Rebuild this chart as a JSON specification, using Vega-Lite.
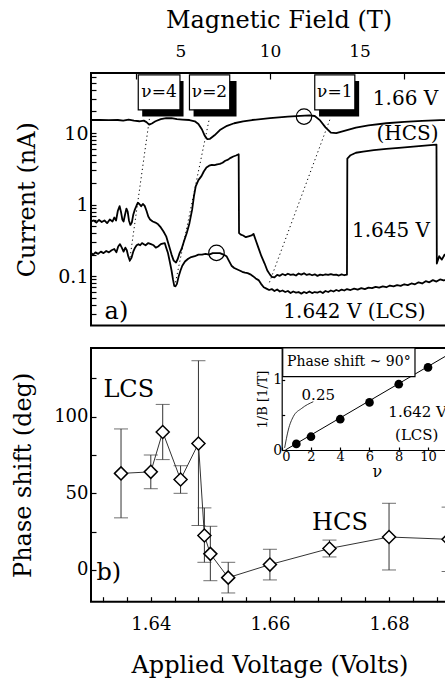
{
  "$schema": "https://vega.github.io/schema/vega-lite/v6.json",
  "padding": {"left": 10, "top": 7, "right": 0, "bottom": 0},
  "background": "white",
  "spacing": 18,
  "config": {
    "font": "DejaVu Serif",
    "view": {"stroke": "black", "strokeWidth": 2},
    "axis": {"domain": false, "grid": false, "labelFont": "DejaVu Serif", "titleFont": "DejaVu Serif", "labelColor": "black", "titleColor": "black", "tickColor": "black", "titleFontWeight": "normal", "tickWidth": 1.2, "labelOverlap": false},
    "text": {"font": "DejaVu Serif", "color": "black"}
  },
  "datasets": {
    "curves": [
      {"series":"HCS","B":0,"I":15.2},{"series":"HCS","B":0.5,"I":15.3},{"series":"HCS","B":1.0,"I":15.1},{"series":"HCS","B":1.5,"I":15.2},{"series":"HCS","B":1.8,"I":14.9},{"series":"HCS","B":2.1,"I":15.4},{"series":"HCS","B":2.4,"I":14.9},{"series":"HCS","B":2.7,"I":14.6},{"series":"HCS","B":2.95,"I":14.9},{"series":"HCS","B":3.1,"I":14.2},{"series":"HCS","B":3.25,"I":13.1},{"series":"HCS","B":3.4,"I":13.6},{"series":"HCS","B":3.6,"I":14.6},{"series":"HCS","B":3.9,"I":15.6},{"series":"HCS","B":4.2,"I":16.1},{"series":"HCS","B":4.5,"I":16.2},{"series":"HCS","B":4.8,"I":15.6},{"series":"HCS","B":5.1,"I":15.4},{"series":"HCS","B":5.5,"I":15.2},{"series":"HCS","B":5.8,"I":14.6},{"series":"HCS","B":6.0,"I":13.4},{"series":"HCS","B":6.2,"I":11.2},{"series":"HCS","B":6.35,"I":9.2},{"series":"HCS","B":6.5,"I":8.2},{"series":"HCS","B":6.65,"I":8.3},{"series":"HCS","B":6.9,"I":9.3},{"series":"HCS","B":7.2,"I":11.0},{"series":"HCS","B":7.6,"I":12.6},{"series":"HCS","B":8.0,"I":13.7},{"series":"HCS","B":8.5,"I":14.5},{"series":"HCS","B":9.0,"I":15.2},{"series":"HCS","B":10,"I":16.2},{"series":"HCS","B":11,"I":16.9},{"series":"HCS","B":11.7,"I":17.4},{"series":"HCS","B":12.2,"I":17.7},{"series":"HCS","B":12.5,"I":17.3},{"series":"HCS","B":12.8,"I":15.0},{"series":"HCS","B":13.1,"I":12.0},{"series":"HCS","B":13.4,"I":10.1},{"series":"HCS","B":13.7,"I":10.0},{"series":"HCS","B":14.2,"I":10.8},{"series":"HCS","B":14.8,"I":11.9},{"series":"HCS","B":15.5,"I":12.8},{"series":"HCS","B":16.5,"I":13.7},{"series":"HCS","B":17.5,"I":14.3},{"series":"HCS","B":18.5,"I":14.8},{"series":"HCS","B":19.5,"I":15.1},{"series":"HCS","B":20,"I":15.2},
      {"series":"V1645","B":0.0,"I":0.58},{"series":"V1645","B":0.15,"I":0.6},{"series":"V1645","B":0.3,"I":0.56},{"series":"V1645","B":0.45,"I":0.61},{"series":"V1645","B":0.6,"I":0.57},{"series":"V1645","B":0.75,"I":0.6},{"series":"V1645","B":0.9,"I":0.55},{"series":"V1645","B":1.05,"I":0.62},{"series":"V1645","B":1.2,"I":0.58},{"series":"V1645","B":1.3,"I":0.66},{"series":"V1645","B":1.4,"I":0.6},{"series":"V1645","B":1.5,"I":0.82},{"series":"V1645","B":1.6,"I":0.95},{"series":"V1645","B":1.68,"I":0.78},{"series":"V1645","B":1.75,"I":0.62},{"series":"V1645","B":1.82,"I":0.58},{"series":"V1645","B":1.9,"I":0.72},{"series":"V1645","B":1.98,"I":0.88},{"series":"V1645","B":2.05,"I":0.8},{"series":"V1645","B":2.12,"I":0.6},{"series":"V1645","B":2.2,"I":0.52},{"series":"V1645","B":2.28,"I":0.56},{"series":"V1645","B":2.36,"I":0.72},{"series":"V1645","B":2.45,"I":0.85},{"series":"V1645","B":2.55,"I":0.98},{"series":"V1645","B":2.62,"I":1.06},{"series":"V1645","B":2.7,"I":1.02},{"series":"V1645","B":2.8,"I":0.95},{"series":"V1645","B":2.9,"I":1.02},{"series":"V1645","B":3.0,"I":0.96},{"series":"V1645","B":3.1,"I":0.82},{"series":"V1645","B":3.2,"I":0.68},{"series":"V1645","B":3.3,"I":0.62},{"series":"V1645","B":3.45,"I":0.58},{"series":"V1645","B":3.6,"I":0.56},{"series":"V1645","B":3.75,"I":0.53},{"series":"V1645","B":3.9,"I":0.48},{"series":"V1645","B":4.05,"I":0.42},{"series":"V1645","B":4.2,"I":0.36},{"series":"V1645","B":4.35,"I":0.27},{"series":"V1645","B":4.5,"I":0.2},{"series":"V1645","B":4.62,"I":0.165},{"series":"V1645","B":4.75,"I":0.155},{"series":"V1645","B":4.85,"I":0.175},{"series":"V1645","B":4.95,"I":0.21},{"series":"V1645","B":5.06,"I":0.24},{"series":"V1645","B":5.2,"I":0.31},{"series":"V1645","B":5.35,"I":0.4},{"series":"V1645","B":5.5,"I":0.55},{"series":"V1645","B":5.65,"I":0.85},{"series":"V1645","B":5.75,"I":1.3},{"series":"V1645","B":5.85,"I":1.8},{"series":"V1645","B":6.0,"I":2.2},{"series":"V1645","B":6.17,"I":2.5},{"series":"V1645","B":6.3,"I":2.9},{"series":"V1645","B":6.45,"I":3.3},{"series":"V1645","B":6.6,"I":3.5},{"series":"V1645","B":6.75,"I":3.6},{"series":"V1645","B":6.9,"I":3.55},{"series":"V1645","B":7.05,"I":3.65},{"series":"V1645","B":7.2,"I":3.7},{"series":"V1645","B":7.35,"I":3.85},{"series":"V1645","B":7.5,"I":4.1},{"series":"V1645","B":7.66,"I":4.25},{"series":"V1645","B":7.8,"I":4.5},{"series":"V1645","B":7.95,"I":4.7},{"series":"V1645","B":8.1,"I":4.85},{"series":"V1645","B":8.25,"I":5.05},{"series":"V1645","B":8.27,"I":0.4},{"series":"V1645","B":8.37,"I":0.38},{"series":"V1645","B":8.5,"I":0.37},{"series":"V1645","B":8.65,"I":0.35},{"series":"V1645","B":8.8,"I":0.36},{"series":"V1645","B":8.97,"I":0.37},{"series":"V1645","B":9.08,"I":0.39},{"series":"V1645","B":9.2,"I":0.32},{"series":"V1645","B":9.35,"I":0.25},{"series":"V1645","B":9.52,"I":0.19},{"series":"V1645","B":9.7,"I":0.15},{"series":"V1645","B":9.85,"I":0.12},{"series":"V1645","B":10.0,"I":0.105},{"series":"V1645","B":10.1,"I":0.098},{"series":"V1645","B":10.25,"I":0.096},{"series":"V1645","B":10.4,"I":0.104},{"series":"V1645","B":10.55,"I":0.101},{"series":"V1645","B":10.7,"I":0.107},{"series":"V1645","B":10.85,"I":0.103},{"series":"V1645","B":11.0,"I":0.108},{"series":"V1645","B":11.15,"I":0.104},{"series":"V1645","B":11.3,"I":0.106},{"series":"V1645","B":11.45,"I":0.102},{"series":"V1645","B":11.6,"I":0.109},{"series":"V1645","B":11.75,"I":0.105},{"series":"V1645","B":11.9,"I":0.11},{"series":"V1645","B":12.05,"I":0.104},{"series":"V1645","B":12.2,"I":0.107},{"series":"V1645","B":12.35,"I":0.103},{"series":"V1645","B":12.5,"I":0.106},{"series":"V1645","B":12.65,"I":0.101},{"series":"V1645","B":12.8,"I":0.105},{"series":"V1645","B":12.95,"I":0.103},{"series":"V1645","B":13.1,"I":0.106},{"series":"V1645","B":13.25,"I":0.104},{"series":"V1645","B":13.4,"I":0.107},{"series":"V1645","B":13.55,"I":0.104},{"series":"V1645","B":13.7,"I":0.105},{"series":"V1645","B":13.85,"I":0.102},{"series":"V1645","B":14.0,"I":0.106},{"series":"V1645","B":14.15,"I":0.103},{"series":"V1645","B":14.3,"I":0.105},{"series":"V1645","B":14.32,"I":4.4},{"series":"V1645","B":14.5,"I":4.9},{"series":"V1645","B":14.8,"I":5.3},{"series":"V1645","B":15.2,"I":5.5},{"series":"V1645","B":15.8,"I":5.75},{"series":"V1645","B":16.5,"I":6.0},{"series":"V1645","B":17.2,"I":6.2},{"series":"V1645","B":18.0,"I":6.45},{"series":"V1645","B":18.8,"I":6.7},{"series":"V1645","B":19.3,"I":6.9},{"series":"V1645","B":19.32,"I":0.15},{"series":"V1645","B":19.45,"I":0.19},{"series":"V1645","B":19.6,"I":0.17},{"series":"V1645","B":19.75,"I":0.2},{"series":"V1645","B":19.9,"I":0.18},{"series":"V1645","B":20,"I":0.19},
      {"series":"LCS","B":0.0,"I":0.21},{"series":"LCS","B":0.12,"I":0.2},{"series":"LCS","B":0.25,"I":0.215},{"series":"LCS","B":0.4,"I":0.205},{"series":"LCS","B":0.55,"I":0.22},{"series":"LCS","B":0.7,"I":0.21},{"series":"LCS","B":0.85,"I":0.225},{"series":"LCS","B":1.0,"I":0.215},{"series":"LCS","B":1.15,"I":0.23},{"series":"LCS","B":1.3,"I":0.24},{"series":"LCS","B":1.42,"I":0.215},{"series":"LCS","B":1.52,"I":0.26},{"series":"LCS","B":1.62,"I":0.28},{"series":"LCS","B":1.72,"I":0.25},{"series":"LCS","B":1.82,"I":0.22},{"series":"LCS","B":1.92,"I":0.25},{"series":"LCS","B":2.0,"I":0.23},{"series":"LCS","B":2.08,"I":0.19},{"series":"LCS","B":2.17,"I":0.165},{"series":"LCS","B":2.26,"I":0.18},{"series":"LCS","B":2.36,"I":0.22},{"series":"LCS","B":2.46,"I":0.25},{"series":"LCS","B":2.55,"I":0.27},{"series":"LCS","B":2.65,"I":0.28},{"series":"LCS","B":2.75,"I":0.27},{"series":"LCS","B":2.85,"I":0.29},{"series":"LCS","B":2.95,"I":0.28},{"series":"LCS","B":3.05,"I":0.27},{"series":"LCS","B":3.2,"I":0.29},{"series":"LCS","B":3.35,"I":0.28},{"series":"LCS","B":3.5,"I":0.27},{"series":"LCS","B":3.62,"I":0.25},{"series":"LCS","B":3.75,"I":0.26},{"series":"LCS","B":3.9,"I":0.28},{"series":"LCS","B":4.0,"I":0.285},{"series":"LCS","B":4.12,"I":0.29},{"series":"LCS","B":4.2,"I":0.25},{"series":"LCS","B":4.3,"I":0.21},{"series":"LCS","B":4.4,"I":0.16},{"series":"LCS","B":4.5,"I":0.12},{"series":"LCS","B":4.58,"I":0.09},{"series":"LCS","B":4.65,"I":0.073},{"series":"LCS","B":4.72,"I":0.072},{"series":"LCS","B":4.8,"I":0.078},{"series":"LCS","B":4.9,"I":0.1},{"series":"LCS","B":5.0,"I":0.12},{"series":"LCS","B":5.1,"I":0.14},{"series":"LCS","B":5.25,"I":0.16},{"series":"LCS","B":5.43,"I":0.175},{"series":"LCS","B":5.6,"I":0.185},{"series":"LCS","B":5.8,"I":0.19},{"series":"LCS","B":6.0,"I":0.2},{"series":"LCS","B":6.2,"I":0.2},{"series":"LCS","B":6.4,"I":0.205},{"series":"LCS","B":6.6,"I":0.2},{"series":"LCS","B":6.8,"I":0.21},{"series":"LCS","B":7.0,"I":0.21},{"series":"LCS","B":7.2,"I":0.21},{"series":"LCS","B":7.4,"I":0.2},{"series":"LCS","B":7.57,"I":0.19},{"series":"LCS","B":7.7,"I":0.165},{"series":"LCS","B":7.85,"I":0.14},{"series":"LCS","B":8.0,"I":0.13},{"series":"LCS","B":8.15,"I":0.125},{"series":"LCS","B":8.3,"I":0.12},{"series":"LCS","B":8.45,"I":0.115},{"series":"LCS","B":8.6,"I":0.112},{"series":"LCS","B":8.75,"I":0.11},{"series":"LCS","B":8.9,"I":0.106},{"series":"LCS","B":9.05,"I":0.1},{"series":"LCS","B":9.2,"I":0.093},{"series":"LCS","B":9.36,"I":0.088},{"series":"LCS","B":9.5,"I":0.078},{"series":"LCS","B":9.65,"I":0.07},{"series":"LCS","B":9.8,"I":0.067},{"series":"LCS","B":9.95,"I":0.064},{"series":"LCS","B":10.1,"I":0.066},{"series":"LCS","B":10.25,"I":0.062},{"series":"LCS","B":10.4,"I":0.065},{"series":"LCS","B":10.55,"I":0.061},{"series":"LCS","B":10.7,"I":0.063},{"series":"LCS","B":10.85,"I":0.06},{"series":"LCS","B":11.0,"I":0.062},{"series":"LCS","B":11.15,"I":0.058},{"series":"LCS","B":11.3,"I":0.061},{"series":"LCS","B":11.45,"I":0.059},{"series":"LCS","B":11.6,"I":0.06},{"series":"LCS","B":11.75,"I":0.057},{"series":"LCS","B":11.9,"I":0.06},{"series":"LCS","B":12.05,"I":0.058},{"series":"LCS","B":12.2,"I":0.061},{"series":"LCS","B":12.35,"I":0.058},{"series":"LCS","B":12.5,"I":0.06},{"series":"LCS","B":12.65,"I":0.059},{"series":"LCS","B":12.8,"I":0.061},{"series":"LCS","B":12.95,"I":0.058},{"series":"LCS","B":13.1,"I":0.062},{"series":"LCS","B":13.25,"I":0.06},{"series":"LCS","B":13.4,"I":0.063},{"series":"LCS","B":13.55,"I":0.061},{"series":"LCS","B":13.7,"I":0.064},{"series":"LCS","B":13.85,"I":0.062},{"series":"LCS","B":14.0,"I":0.065},{"series":"LCS","B":14.15,"I":0.063},{"series":"LCS","B":14.3,"I":0.066},{"series":"LCS","B":14.5,"I":0.064},{"series":"LCS","B":14.7,"I":0.067},{"series":"LCS","B":14.9,"I":0.065},{"series":"LCS","B":15.1,"I":0.068},{"series":"LCS","B":15.3,"I":0.066},{"series":"LCS","B":15.5,"I":0.069},{"series":"LCS","B":15.7,"I":0.068},{"series":"LCS","B":15.9,"I":0.071},{"series":"LCS","B":16.1,"I":0.069},{"series":"LCS","B":16.3,"I":0.072},{"series":"LCS","B":16.5,"I":0.07},{"series":"LCS","B":16.7,"I":0.074},{"series":"LCS","B":16.9,"I":0.072},{"series":"LCS","B":17.1,"I":0.075},{"series":"LCS","B":17.3,"I":0.073},{"series":"LCS","B":17.5,"I":0.077},{"series":"LCS","B":17.7,"I":0.075},{"series":"LCS","B":17.9,"I":0.079},{"series":"LCS","B":18.1,"I":0.077},{"series":"LCS","B":18.3,"I":0.082},{"series":"LCS","B":18.5,"I":0.079},{"series":"LCS","B":18.7,"I":0.085},{"series":"LCS","B":18.9,"I":0.082},{"series":"LCS","B":19.1,"I":0.088},{"series":"LCS","B":19.3,"I":0.084},{"series":"LCS","B":19.5,"I":0.09},{"series":"LCS","B":19.7,"I":0.087},{"series":"LCS","B":19.9,"I":0.09},{"series":"LCS","B":20,"I":0.088}
    ],
    "nulines": [
      {"nu":"4","B":3.27,"I":16.3},{"nu":"4","B":2.15,"I":0.16},
      {"nu":"2","B":6.62,"I":16.3},{"nu":"2","B":4.72,"I":0.082},
      {"nu":"1","B":13.38,"I":16.3},{"nu":"1","B":9.97,"I":0.082}
    ],
    "boxes": [
      {"label":"ν=4","B1":2.64,"B2":4.97,"I1":21.1,"I2":65,"sB1":2.86,"sB2":5.17,"sI1":17.0,"sI2":53.5,"Bt":3.8,"It":37},
      {"label":"ν=2","B1":5.5,"B2":7.75,"I1":21.1,"I2":65,"sB1":5.73,"sB2":8.13,"sI1":17.0,"sI2":53.5,"Bt":6.62,"It":37},
      {"label":"ν=1","B1":12.5,"B2":14.74,"I1":21.1,"I2":65,"sB1":12.74,"sB2":14.98,"sI1":17.0,"sI2":53.5,"Bt":13.62,"It":37}
    ],
    "rings": [{"B":11.9,"I":17.0},{"B":7.01,"I":0.212}],
    "toptext": [
      {"label":"1.66 V","B":17.57,"I":30.1},{"label":"(HCS)","B":17.68,"I":9.78},{"label":"1.645 V","B":16.76,"I":0.424},{"label":"1.642 V (LCS)","B":14.72,"I":0.0312}
    ],
    "toplabel": [{"label":"a)","B":1.42,"I":0.0312}],
    "phase": [
      {"V":1.635,"ph":63,"lo":34,"hi":92},
      {"V":1.640,"ph":64,"lo":53,"hi":75},
      {"V":1.642,"ph":90,"lo":72,"hi":108},
      {"V":1.645,"ph":59,"lo":50,"hi":68},
      {"V":1.648,"ph":82.5,"lo":29,"hi":136.5},
      {"V":1.649,"ph":22.5,"lo":5,"hi":40.5},
      {"V":1.650,"ph":10.5,"lo":-7,"hi":28.5},
      {"V":1.653,"ph":-5,"lo":-15,"hi":5},
      {"V":1.660,"ph":3.5,"lo":-6.5,"hi":13.5},
      {"V":1.670,"ph":14,"lo":8.5,"hi":19.5},
      {"V":1.680,"ph":21.5,"lo":0,"hi":43.5},
      {"V":1.690,"ph":20,"lo":-1,"hi":41}
    ],
    "bottext": [{"label":"LCS","V":1.6363,"ph":117.4},{"label":"HCS","V":1.67176,"ph":30.7},{"label":"b)","V":1.63296,"ph":-2}],
    "insetpts": [{"nu":1,"invB":0.087},{"nu":2,"invB":0.19},{"nu":4,"invB":0.44},{"nu":6,"invB":0.68},{"nu":8,"invB":0.94},{"nu":10,"invB":1.18},{"nu":12,"invB":1.42}],
    "insetfit": [{"nu":0.25,"invB":0},{"nu":12.1,"invB":1.45}],
    "pointer": [{"nu":0.2,"invB":0.03},{"nu":0.45,"invB":0.286},{"nu":0.79,"invB":0.476},{"nu":1.37,"invB":0.595},{"nu":2.16,"invB":0.69}],
    "insetbox": [{"label":"Phase shift ~  90°","n1":0.07,"n2":9.11,"b1":1.047,"b2":1.457,"nt":4.59,"bt":1.257}],
    "insettext": [{"label":"0.25","nu":2.5,"invB":0.786},{"label":"1.642 V","nu":9.29,"invB":0.547},{"label":"(LCS)","nu":9.23,"invB":0.214}]
  },
  "vconcat": [
    {
      "width": 358,
      "height": 252.4,
      "layer": [
        {
          "layer": [
            {
              "data": {"name": "curves"},
              "mark": {"type": "line", "color": "black", "strokeWidth": 1.8, "strokeJoin": "round"},
              "encoding": {
                "x": {"field": "B", "type": "quantitative", "scale": {"domain": [0, 20], "nice": false, "zero": false},
                  "axis": {"orient": "top", "title": "Magnetic Field (T)", "titleX": 187.5, "values": [5, 10, 15], "tickSize": -6, "tickOpacity": 0, "labelFontSize": 17, "titleFontSize": 24, "labelPadding": 19, "titlePadding": 10, "labelOverlap": false}},
                "y": {"field": "I", "type": "quantitative", "scale": {"type": "log", "domain": [0.0205, 69], "nice": false},
                  "axis": {"title": "Current (nA)", "titleFontSize": 24, "labelFontSize": 19, "tickSize": -5, "labelPadding": 8, "titlePadding": 18, "labelOverlap": false,
                    "values": [0.03,0.04,0.05,0.06,0.07,0.08,0.09,0.1,0.2,0.3,0.4,0.5,0.6,0.7,0.8,0.9,1,2,3,4,5,6,7,8,9,10,20,30,40,50,60],
                    "labelExpr": "datum.value == 0.1 ? '0.1' : datum.value == 1 ? '1' : datum.value == 10 ? '10' : ''"}},
                "detail": {"field": "series"}
              }
            },
            {
              "data": {"name": "nulines"},
              "mark": {"type": "line", "color": "black", "strokeWidth": 1, "strokeDash": [1.2, 3]},
              "encoding": {"x": {"field": "B", "type": "quantitative"}, "y": {"field": "I", "type": "quantitative"}, "detail": {"field": "nu"}}
            },
            {
              "data": {"name": "boxes"},
              "mark": {"type": "rect", "color": "black"},
              "encoding": {"x": {"field": "sB1", "type": "quantitative"}, "x2": {"field": "sB2"}, "y": {"field": "sI1", "type": "quantitative"}, "y2": {"field": "sI2"}}
            },
            {
              "data": {"name": "boxes"},
              "mark": {"type": "rect", "fill": "white", "stroke": "black", "strokeWidth": 1.2},
              "encoding": {"x": {"field": "B1", "type": "quantitative"}, "x2": {"field": "B2"}, "y": {"field": "I1", "type": "quantitative"}, "y2": {"field": "I2"}}
            },
            {
              "data": {"name": "boxes"},
              "mark": {"type": "text", "fontSize": 17, "baseline": "middle", "align": "center"},
              "encoding": {"x": {"field": "Bt", "type": "quantitative"}, "y": {"field": "It", "type": "quantitative"}, "text": {"field": "label"}}
            },
            {
              "data": {"name": "rings"},
              "mark": {"type": "point", "shape": "circle", "filled": false, "color": "black", "size": 240, "strokeWidth": 1.2, "opacity": 1},
              "encoding": {"x": {"field": "B", "type": "quantitative"}, "y": {"field": "I", "type": "quantitative"}}
            },
            {
              "data": {"name": "toptext"},
              "mark": {"type": "text", "fontSize": 20, "baseline": "middle", "align": "center"},
              "encoding": {"x": {"field": "B", "type": "quantitative"}, "y": {"field": "I", "type": "quantitative"}, "text": {"field": "label"}}
            },
            {
              "data": {"name": "toplabel"},
              "mark": {"type": "text", "fontSize": 24, "baseline": "middle", "align": "center"},
              "encoding": {"x": {"field": "B", "type": "quantitative"}, "y": {"field": "I", "type": "quantitative"}, "text": {"field": "label"}}
            }
          ]
        },
        {
          "data": {"name": "rings"},
          "mark": {"type": "point", "opacity": 0},
          "encoding": {
            "x": {"field": "B", "type": "quantitative", "scale": {"domain": [0, 20], "nice": false, "zero": false},
              "axis": {"orient": "top", "values": [2.5, 10, 17.5], "labels": false, "title": null, "tickSize": -6}},
            "y": {"field": "I", "type": "quantitative", "scale": {"type": "log", "domain": [0.0205, 69], "nice": false}, "axis": null}
          }
        }
      ],
      "resolve": {"scale": {"x": "independent", "y": "independent"}, "axis": {"x": "independent", "y": "independent"}}
    },
    {
      "width": 357,
      "height": 253.7,
      "layer": [
        {
          "layer": [
            {
              "data": {"name": "phase"},
              "mark": {"type": "line", "color": "#333", "strokeWidth": 1},
              "encoding": {
                "x": {"field": "V", "type": "quantitative", "scale": {"domain": [1.62996, 1.6899], "nice": false, "zero": false},
                  "axis": {"title": "Applied Voltage (Volts)", "titleFontSize": 24, "labelFontSize": 18, "tickSize": -5, "labelPadding": 19, "titlePadding": 20, "labelOverlap": false,
                    "values": [1.64, 1.66, 1.68], "format": ".2f"}},
                "y": {"field": "ph", "type": "quantitative", "scale": {"domain": [-20.7, 144.8], "nice": false, "zero": false},
                  "axis": {"title": "Phase shift (deg)", "titleFontSize": 24, "labelFontSize": 18, "tickSize": -5, "labelPadding": 8, "titlePadding": 18, "labelOverlap": false,
                    "values": [0, 25, 50, 75, 100, 125], "labelExpr": "datum.value % 50 == 0 ? datum.value : ''"}}
              }
            },
            {
              "data": {"name": "phase"},
              "mark": {"type": "rule", "color": "#333", "strokeWidth": 1},
              "encoding": {"x": {"field": "V", "type": "quantitative"}, "y": {"field": "lo", "type": "quantitative"}, "y2": {"field": "hi"}}
            },
            {
              "data": {"name": "phase"},
              "mark": {"type": "tick", "orient": "horizontal", "color": "#333", "size": 14, "thickness": 1},
              "encoding": {"x": {"field": "V", "type": "quantitative"}, "y": {"field": "lo", "type": "quantitative"}}
            },
            {
              "data": {"name": "phase"},
              "mark": {"type": "tick", "orient": "horizontal", "color": "#333", "size": 14, "thickness": 1},
              "encoding": {"x": {"field": "V", "type": "quantitative"}, "y": {"field": "hi", "type": "quantitative"}}
            },
            {
              "data": {"name": "phase"},
              "mark": {"type": "point", "shape": "diamond", "filled": true, "fill": "white", "stroke": "black", "strokeWidth": 1.5, "size": 170, "opacity": 1},
              "encoding": {"x": {"field": "V", "type": "quantitative"}, "y": {"field": "ph", "type": "quantitative"}}
            },
            {
              "data": {"name": "bottext"},
              "mark": {"type": "text", "fontSize": 24, "baseline": "middle", "align": "center"},
              "encoding": {"x": {"field": "V", "type": "quantitative"}, "y": {"field": "ph", "type": "quantitative"}, "text": {"field": "label"}}
            }
          ]
        },
        {
          "layer": [
            {
              "data": {"name": "insetfit"},
              "mark": {"type": "line", "color": "black", "strokeWidth": 1},
              "encoding": {
                "x": {"field": "nu", "type": "quantitative", "scale": {"domain": [0, 13], "range": [190.7, 380.9], "nice": false, "zero": false},
                  "axis": {"orient": "bottom", "offset": -151.7, "domain": true, "domainColor": "black", "domainWidth": 1.2, "title": "ν", "titleFontSize": 16, "titlePadding": 0, "labelFontSize": 13, "labelPadding": 3, "tickSize": -3, "labelOverlap": false,
                    "values": [0,1,2,3,4,5,6,7,8,9,10,11,12,13], "labelExpr": "datum.value % 2 == 0 ? datum.value : ''"}},
                "y": {"field": "invB", "type": "quantitative", "scale": {"domain": [0, 1.457], "range": [102, 0], "nice": false, "zero": false},
                  "axis": {"orient": "left", "offset": -190.7, "domain": true, "domainColor": "black", "domainWidth": 1.2, "title": "1/B [1/T]", "titleFontSize": 13, "titlePadding": 3, "labelFontSize": 14, "labelPadding": 3, "tickSize": -3, "labelOverlap": false,
                    "values": [0, 0.5, 1], "labelExpr": "datum.value == 0 ? '0' : datum.value == 1 ? '1' : ''"}}
              }
            },
            {
              "data": {"name": "pointer"},
              "mark": {"type": "line", "color": "black", "strokeWidth": 0.8, "interpolate": "monotone"},
              "encoding": {"x": {"field": "nu", "type": "quantitative"}, "y": {"field": "invB", "type": "quantitative"}}
            },
            {
              "data": {"name": "insetpts"},
              "mark": {"type": "point", "shape": "circle", "filled": true, "color": "black", "size": 75, "opacity": 1},
              "encoding": {"x": {"field": "nu", "type": "quantitative"}, "y": {"field": "invB", "type": "quantitative"}}
            },
            {
              "data": {"name": "insetbox"},
              "mark": {"type": "rect", "fill": "white", "stroke": "black", "strokeWidth": 1.2},
              "encoding": {"x": {"field": "n1", "type": "quantitative"}, "x2": {"field": "n2"}, "y": {"field": "b1", "type": "quantitative"}, "y2": {"field": "b2"}}
            },
            {
              "data": {"name": "insetbox"},
              "mark": {"type": "text", "fontSize": 14, "baseline": "middle", "align": "center"},
              "encoding": {"x": {"field": "nt", "type": "quantitative"}, "y": {"field": "bt", "type": "quantitative"}, "text": {"field": "label"}}
            },
            {
              "data": {"name": "insettext"},
              "mark": {"type": "text", "fontSize": 15, "baseline": "middle", "align": "center"},
              "encoding": {"x": {"field": "nu", "type": "quantitative"}, "y": {"field": "invB", "type": "quantitative"}, "text": {"field": "label"}}
            }
          ]
        },
        {
          "data": {"name": "phase"},
          "mark": {"type": "point", "opacity": 0},
          "encoding": {
            "x": {"field": "V", "type": "quantitative", "scale": {"domain": [1.62996, 1.6899], "nice": false, "zero": false},
              "axis": {"orient": "bottom", "values": [1.632,1.636,1.644,1.648,1.652,1.656,1.664,1.668,1.672,1.676,1.684,1.688], "labels": false, "title": null, "tickSize": -5}},
            "y": {"field": "ph", "type": "quantitative", "scale": {"domain": [-20.7, 144.8], "nice": false, "zero": false}, "axis": null}
          }
        }
      ],
      "resolve": {"scale": {"x": "independent", "y": "independent"}, "axis": {"x": "independent", "y": "independent"}}
    }
  ]
}
